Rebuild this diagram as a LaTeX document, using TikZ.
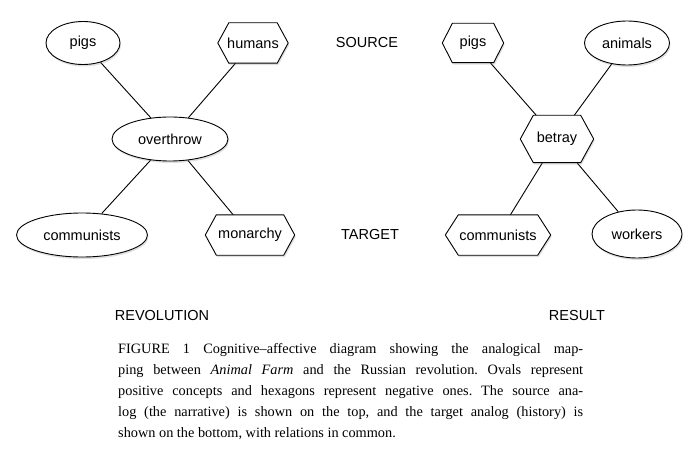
\documentclass[tikz,border=0pt]{standalone}
\usepackage{fontspec}
\setmainfont{Liberation Serif}
\newfontfamily\sans{Liberation Sans}
\usetikzlibrary{shapes.geometric,shadows,backgrounds}
\begin{document}
\frenchspacing
\begin{tikzpicture}[x=1pt,y=-1pt,
  lbl/.style={font=\sans\fontsize{14.5}{16}\selectfont},
  ov/.style={ellipse,draw,line width=0.9pt,fill=white,inner sep=0pt,lbl,drop shadow={opacity=0.25,shadow xshift=1pt,shadow yshift=-2pt}},
  hx/.style={rectangle,inner sep=0pt,lbl},
  hexline/.style={draw,line width=0.9pt,fill=white,drop shadow={opacity=0.25,shadow xshift=1pt,shadow yshift=-2pt}},
  con/.style={line width=0.9pt}]
\useasboundingbox (0,0) rectangle (698,465);
\node[ov,minimum width=74pt,minimum height=43pt] (lp) at (83,43) {pigs};
\node[hx,minimum width=70pt,minimum height=40pt] (lh) at (253,43) {humans};
\node[ov,minimum width=116pt,minimum height=44pt] (lo) at (170,139) {overthrow};
\node[ov,minimum width=131pt,minimum height=44pt] (lc) at (82,235) {communists};
\node[hx,minimum width=89pt,minimum height=40pt] (lm) at (250,235) {monarchy};
\node[hx,minimum width=61pt,minimum height=39pt] (rp) at (473,43) {pigs};
\node[ov,minimum width=85pt,minimum height=44pt] (ra) at (627,43) {animals};
\node[hx,minimum width=73pt,minimum height=47pt] (rb) at (557,139) {betray};
\node[hx,minimum width=105pt,minimum height=40pt] (rc) at (498,235) {communists};
\node[ov,minimum width=90pt,minimum height=48pt] (rw) at (637,234) {workers};
\node[lbl] (src) at (367,43) {SOURCE};
\node[lbl] (tgt) at (370,235) {TARGET};
\node[lbl] (rev) at (162,316) {REVOLUTION};
\node[lbl] (res) at (577,316) {RESULT};
\begin{scope}[on background layer]
\draw[con] (lp) -- (lo); \draw[con] (lh) -- (lo);
\draw[con] (lo) -- (lc); \draw[con] (lo) -- (lm);
\draw[con] (rp) -- (rb); \draw[con] (ra) -- (rb);
\draw[con] (rb) -- (rc); \draw[con] (rb) -- (rw);
\foreach \n/\d in {lh/11,lm/11,rp/10,rb/13,rc/13}{
\path[hexline] (\n.west) -- ([xshift=\d pt]\n.north west) -- ([xshift=-\d pt]\n.north east) -- (\n.east) -- ([xshift=-\d pt]\n.south east) -- ([xshift=\d pt]\n.south west) -- cycle;}
\end{scope}
\node[anchor=north west,inner sep=0pt,text width=465pt,align=justify,font=\fontsize{14.3}{21}\selectfont] (cap) at (118,343)
{FIGURE 1\ Cognitive--affective diagram showing the analogical map-\linebreak ping between \emph{Animal Farm} and the Russian revolution. Ovals represent\linebreak positive concepts and hexagons represent negative ones. The source ana-\linebreak log (the narrative) is shown on the top, and the target analog (history) is\linebreak shown on the bottom, with relations in common.};
\end{tikzpicture}
\end{document}
